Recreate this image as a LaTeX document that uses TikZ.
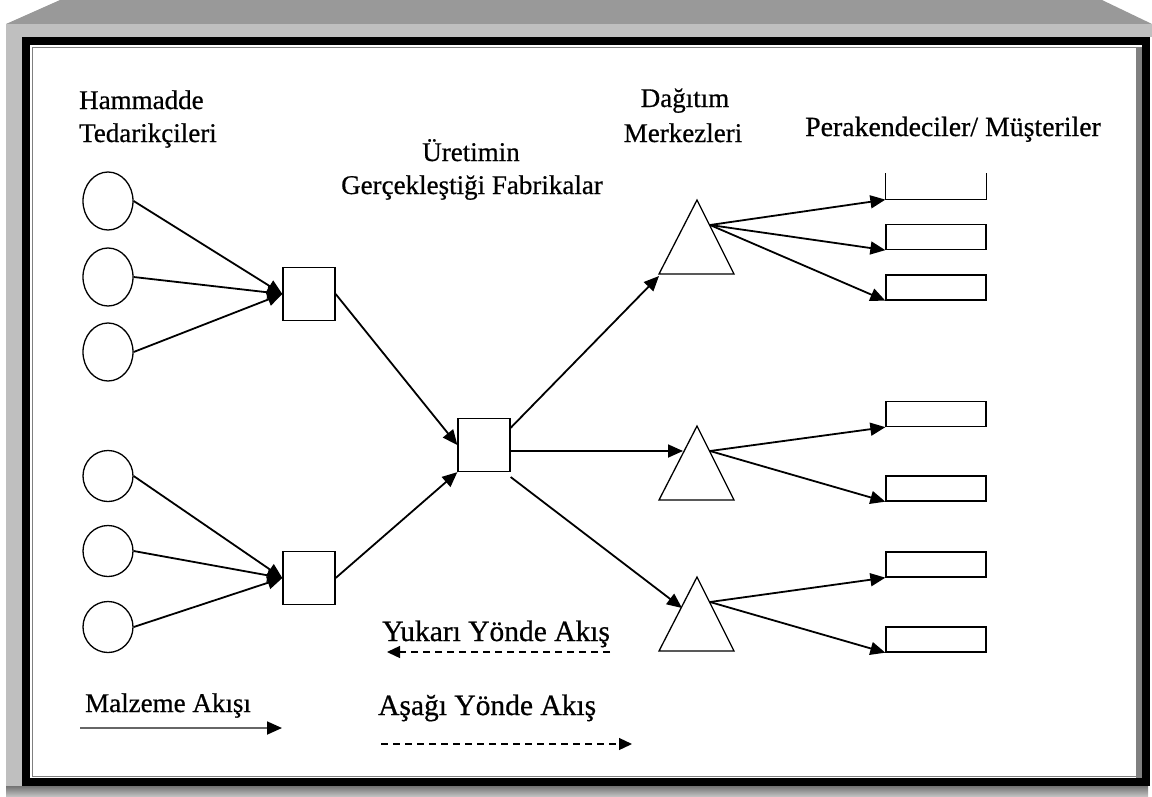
\documentclass[tikz,border=0pt]{standalone}
\usepackage{fontspec}
\setmainfont{Liberation Serif}[FakeBold=0.6]
\newfontfamily\labelfont{Liberation Serif}[FakeBold=0.6]
\usetikzlibrary{shapes.geometric,arrows.meta,calc}

\tikzset{
  supplier/.style={draw, ellipse, line width=1.3pt, minimum width=50pt, inner sep=0pt},
  plant/.style={draw, rectangle, line width=1.3pt, minimum width=52pt, minimum height=53pt, inner sep=0pt},
  shop/.style={draw, rectangle, line width=1.3pt, minimum width=100pt, minimum height=25pt, inner sep=0pt},
  flow/.style={line width=1.8pt, -{Triangle[length=15pt,width=13pt]}},
  legflow/.style={line width=1.3pt, dash pattern=on 7pt off 5pt, -{Triangle[length=13pt,width=12pt]}},
  label/.style={inner sep=0pt, font=\labelfont\fontsize{27}{32}\selectfont},
  leglabel/.style={inner sep=0pt, font=\labelfont\fontsize{29.5}{34}\selectfont},
}

\begin{document}
\begin{tikzpicture}[x=1pt, y=-1pt]
\useasboundingbox (0,0) rectangle (1152,796);

% Frame
\fill[black!40] (60,0) -- (1102,0) -- (1152,24) -- (6,24) -- cycle;
\fill[black!25] (6,24) rectangle (1152,37);
\fill[black!25] (6,24) rectangle (22,790);
\shade[top color=black!55, bottom color=black!25] (6,786) rectangle (1148,796);
\fill[black] (22,37) rectangle (1150,786);
\fill[white] (30,45) rectangle (1142,778);
\fill[black!50] (1136,47) rectangle (1142,778);
\draw[black!50, line width=1pt] (32,47.5) rectangle (1139,776.5);

% Suppliers
\foreach \n/\y/\h in {1/201/58, 2/277/58, 3/352/58, 4/476/51, 5/551/51, 6/627/51}
  \node[supplier, minimum height=\h] (c\n) at (108,\y) {};

% Plants
\node[plant] (s1) at (309,294) {};
\node[plant] (s2) at (309,578) {};
\node[plant] (m) at (484,445) {};

% Depots
\foreach \n/\y in {1/200, 2/426, 3/577}
  \draw[line width=1.3pt] (697,\y) coordinate (d\n) -- ++(37,74) -- ++(-75,0) -- cycle;

% Retailers
\node[shop, draw=none] (r1) at (936,186.5) {};
\draw[line width=1.3pt] (r1.north west) |- (r1.south east) -- (r1.north east);
\foreach \n/\y in {2/237, 3/287.5, 4/414, 5/488.5, 6/564.5, 7/639.5}
  \node[shop] (r\n) at (936,\y) {};

% Flows
\foreach \n in {1,2,3} \draw[flow] (c\n.east) -- (s1.west);
\foreach \n in {4,5,6} \draw[flow] (c\n.east) -- (s2.west);
\draw[flow] (s1.east) -- (m.west);
\draw[flow] (s2.east) -- (m.south west);
\draw[flow] ([yshift=-10pt]m.north east) -- ($(d1)+(-38,76)$);
\draw[flow] ([yshift=-6pt]m.east) -- ($(d2)+(-14,25)$);
\draw[flow] ([yshift=-32pt]m.east) -- ($(d3)+(-15,31)$);
\foreach \d/\rs in {1/{1,2,3}, 2/{4,5}, 3/{6,7}}
  \foreach \r in \rs
    \draw[flow] ($(d\d)+(13,25)$) -- (r\r.south west);

% Labels
\node[label, anchor=base west] (hamA) at (79,109) {Hammadde};
\node[label, anchor=base west] (hamB) at (79,142) {Tedarikçileri};
\node[label, anchor=base] (uretA) at (471,161) {Üretimin};
\node[label, anchor=base] (uretB) at (472,194) {Gerçekleştiği Fabrikalar};
\node[label, anchor=base] (dagA) at (685,107) {Dağıtım};
\node[label, anchor=base] (dagB) at (683,142) {Merkezleri};
\node[label, anchor=base west, font=\labelfont\fontsize{27.8}{32}\selectfont] (per) at (805,136) {Perakendeciler/ Müşteriler};

% Legend
\node[leglabel, anchor=base west] (up) at (382,641) {Yukarı Yönde Akış};
\coordinate (upL) at (387,652);
\coordinate (upR) at (610,652);
\draw[legflow] (upR) -- (upL);
\node[leglabel, anchor=base west] (down) at (378,715) {Aşağı Yönde Akış};
\coordinate (downL) at (381,744);
\coordinate (downR) at (632,744);
\draw[legflow] (downL) -- (downR);
\node[label, anchor=base west] (mat) at (85,712) {Malzeme Akışı};
\coordinate (matL) at (80,728);
\coordinate (matR) at (282,728);
\draw[line width=1.8pt, black!60, -{Triangle[length=15pt,width=13pt,color=black]}] (matL) -- (matR);
\end{tikzpicture}
\end{document}
